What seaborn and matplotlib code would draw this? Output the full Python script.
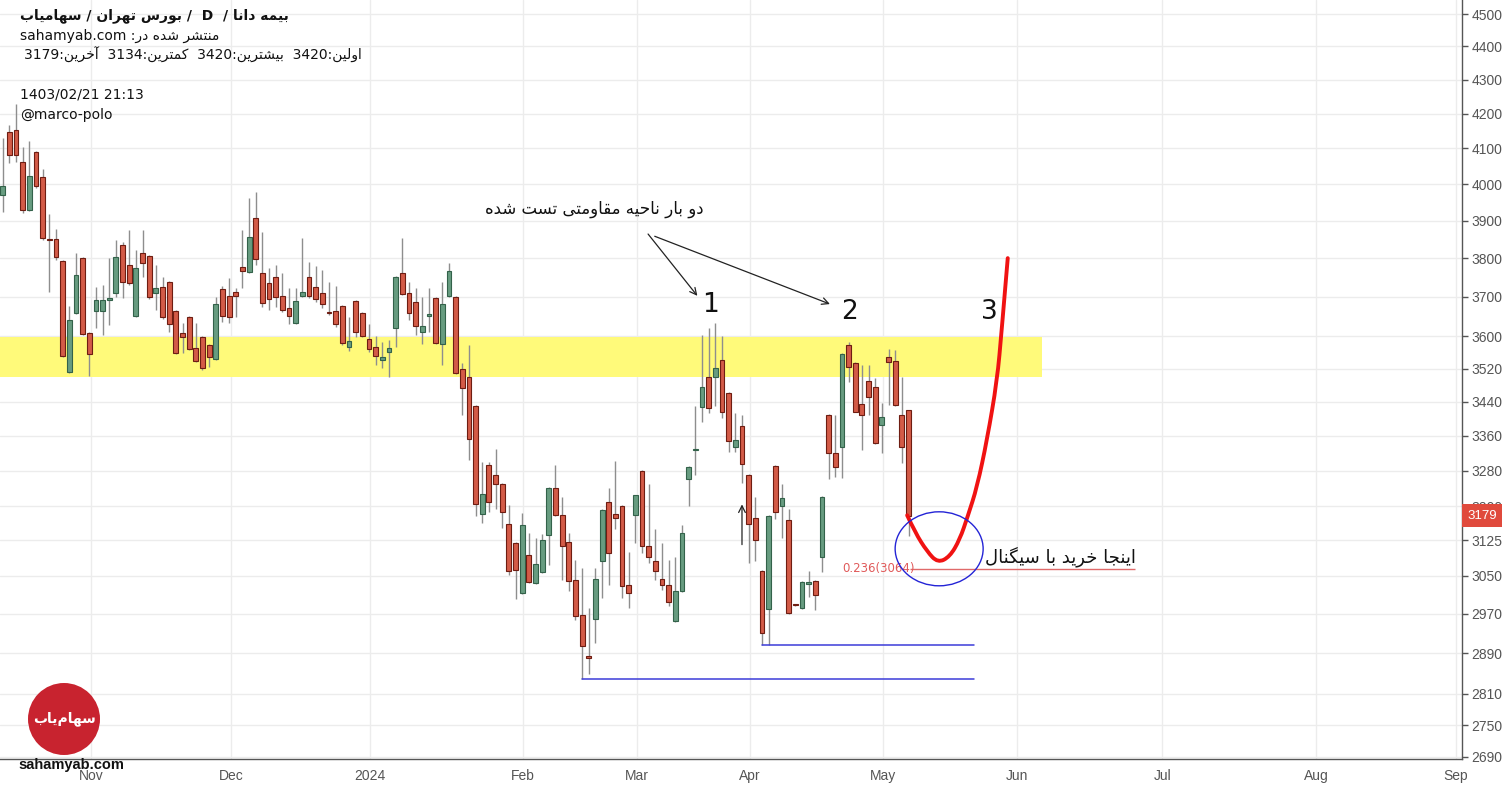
import numpy as np
import pandas as pd
import seaborn as sns
import matplotlib.pyplot as plt
from matplotlib.patches import Ellipse, Rectangle, PathPatch
from matplotlib.path import Path

# daily candles (bima dana)
opens = [3970, 4147, 4153, 4061, 3929, 4090, 4020, 3851, 3850, 3793,
         3512, 3658, 3800, 3608, 3663, 3663, 3691, 3709, 3835, 3782,
         3651, 3814, 3806, 3709, 3725, 3738, 3663, 3608, 3648, 3571,
         3598, 3578, 3544, 3720, 3702, 3712, 3777, 3764, 3907, 3761,
         3735, 3751, 3702, 3671, 3633, 3702, 3751, 3725, 3709, 3661,
         3663, 3676, 3573, 3689, 3658, 3593, 3573, 3541, 3561, 3621,
         3761, 3709, 3686, 3611, 3651, 3697, 3581, 3702, 3699, 3519,
         3500, 3431, 3182, 3293, 3271, 3250, 3160, 3120, 3014, 3094,
         3035, 3058, 3136, 3241, 3180, 3122, 3041, 2967, 2884, 2959,
         3080, 3210, 3182, 3200, 3031, 3180, 3280, 3114, 3080, 3043,
         3031, 2956, 3018, 3262, 3326, 3428, 3500, 3500, 3541, 3461,
         3335, 3383, 3271, 3173, 3060, 2981, 3291, 3200, 3169, 2990,
         2983, 3033, 3039, 3090, 3409, 3321, 3335, 3578, 3534, 3435,
         3490, 3476, 3386, 3549, 3539, 3409, 3420]
highs = [4130, 4167, 4227, 4104, 4121, 4092, 4042, 3918, 3877, 3795,
         3676, 3814, 3802, 3610, 3725, 3730, 3800, 3848, 3842, 3875,
         3821, 3875, 3808, 3782, 3751, 3740, 3665, 3633, 3650, 3633,
         3600, 3580, 3699, 3727, 3748, 3722, 3875, 3962, 3978, 3869,
         3774, 3782, 3761, 3722, 3722, 3853, 3790, 3780, 3769, 3738,
         3727, 3678, 3648, 3691, 3660, 3631, 3601, 3586, 3591, 3753,
         3853, 3738, 3722, 3699, 3722, 3699, 3738, 3788, 3702, 3534,
         3578, 3433, 3300, 3300, 3330, 3252, 3202, 3122, 3186, 3142,
         3131, 3138, 3243, 3293, 3221, 3142, 3084, 3067, 2983, 3065,
         3193, 3241, 3302, 3202, 3101, 3226, 3282, 3250, 3149, 3120,
         3084, 3090, 3158, 3291, 3431, 3603, 3621, 3633, 3601, 3463,
         3414, 3409, 3273, 3221, 3062, 3180, 3293, 3250, 3193, 2991,
         3039, 3060, 3041, 3223, 3411, 3409, 3558, 3586, 3536, 3529,
         3529, 3497, 3437, 3568, 3566, 3500, 3420]
lows = [3923, 4058, 4061, 3921, 3926, 3990, 3848, 3712, 3795, 3549,
        3510, 3656, 3604, 3502, 3621, 3603, 3628, 3699, 3697, 3730,
        3649, 3751, 3694, 3666, 3643, 3611, 3556, 3559, 3566, 3537,
        3517, 3524, 3542, 3636, 3633, 3648, 3722, 3761, 3782, 3674,
        3666, 3674, 3661, 3631, 3631, 3699, 3697, 3687, 3671, 3653,
        3623, 3578, 3564, 3598, 3598, 3561, 3529, 3522, 3500, 3573,
        3704, 3641, 3603, 3581, 3611, 3581, 3529, 3699, 3507, 3409,
        3305, 3178, 3164, 3188, 3193, 3153, 3052, 3000, 3012, 3035,
        3033, 3056, 3073, 3178, 3041, 3018, 2958, 2840, 2848, 2910,
        3002, 3031, 3149, 3002, 2983, 3120, 3099, 3077, 3041, 3020,
        2987, 2954, 3016, 3200, 3271, 3393, 3414, 3431, 3402, 3323,
        3323, 3253, 3077, 3080, 2906, 2906, 3171, 3131, 2969, 2987,
        2981, 3006, 2979, 3058, 3262, 3266, 3264, 3488, 3415, 3327,
        3409, 3342, 3321, 3433, 3431, 3298, 3134]
closes = [3995, 4081, 4081, 3929, 4022, 3995, 3853, 3849, 3803, 3551,
          3641, 3756, 3606, 3556, 3691, 3691, 3696, 3803, 3738, 3735,
          3774, 3788, 3699, 3722, 3648, 3631, 3559, 3598, 3568, 3539,
          3522, 3549, 3681, 3651, 3648, 3702, 3766, 3856, 3798, 3684,
          3694, 3699, 3666, 3651, 3689, 3712, 3702, 3694, 3681, 3658,
          3631, 3583, 3588, 3611, 3601, 3568, 3551, 3549, 3571, 3751,
          3707, 3658, 3626, 3626, 3656, 3583, 3681, 3766, 3510, 3473,
          3353, 3206, 3228, 3210, 3250, 3188, 3060, 3062, 3158, 3037,
          3075, 3127, 3241, 3180, 3114, 3039, 2965, 2904, 2880, 3043,
          3191, 3099, 3173, 3027, 3014, 3224, 3114, 3090, 3060, 3031,
          2995, 3018, 3142, 3289, 3330, 3476, 3426, 3522, 3417, 3349,
          3351, 3296, 3160, 3127, 2930, 3178, 3188, 3219, 2971, 2988,
          3037, 3037, 3010, 3221, 3321, 3289, 3556, 3524, 3417, 3409,
          3452, 3344, 3404, 3537, 3433, 3333, 3179]

# axis labels
y_ticks = [2690, 2750, 2810, 2890, 2970, 3050, 3125, 3200, 3280, 3360, 3440,
           3520, 3600, 3700, 3800, 3900, 4000, 4100, 4200, 4300, 4400, 4500]
month_labels = ['Nov', 'Dec', '2024', 'Feb', 'Mar', 'Apr', 'May', 'Jun', 'Jul', 'Aug', 'Sep']
month_pos = [13.3, 34.3, 55.2, 78.1, 95.2, 112.2, 132.2, 152.3, 174.1, 197.2, 218.2]

# drawings on the chart
zone_low, zone_high = 3500, 3598
support_1, support_2 = 2840, 2906
fib_level = 3064
first_p, high_p, low_p, last_p = 3420, 3420, 3134, 3179
proj_x = [135.8, 137.0, 138.8, 140.4, 142.2, 143.7, 144.9, 146.3, 147.8, 149.3, 150.0, 150.9]
proj_y = [3180, 3142, 3101, 3077, 3090, 3127, 3178, 3243, 3351, 3490, 3616, 3800]

# minimal persian shaping (matplotlib has no bidi / joining)
FORMS = {
    'ا': ('\uFE8D', '\uFE8E', None, None), 'آ': ('\uFE81', '\uFE82', None, None),
    'ب': ('\uFE8F', '\uFE90', '\uFE91', '\uFE92'), 'ت': ('\uFE95', '\uFE96', '\uFE97', '\uFE98'),
    'ج': ('\uFE9D', '\uFE9E', '\uFE9F', '\uFEA0'), 'ح': ('\uFEA1', '\uFEA2', '\uFEA3', '\uFEA4'),
    'خ': ('\uFEA5', '\uFEA6', '\uFEA7', '\uFEA8'), 'د': ('\uFEA9', '\uFEAA', None, None),
    'ر': ('\uFEAD', '\uFEAE', None, None), 'س': ('\uFEB1', '\uFEB2', '\uFEB3', '\uFEB4'),
    'ش': ('\uFEB5', '\uFEB6', '\uFEB7', '\uFEB8'), 'ق': ('\uFED5', '\uFED6', '\uFED7', '\uFED8'),
    'ک': ('\uFB8E', '\uFB8F', '\uFB90', '\uFB91'), 'گ': ('\uFB92', '\uFB93', '\uFB94', '\uFB95'),
    'ل': ('\uFEDD', '\uFEDE', '\uFEDF', '\uFEE0'), 'م': ('\uFEE1', '\uFEE2', '\uFEE3', '\uFEE4'),
    'ن': ('\uFEE5', '\uFEE6', '\uFEE7', '\uFEE8'), 'و': ('\uFEED', '\uFEEE', None, None),
    'ه': ('\uFEE9', '\uFEEA', '\uFEEB', '\uFEEC'), 'ی': ('\uFBFC', '\uFBFD', '\uFBFE', '\uFBFF'),
}


def fa(text):
    out = []
    for i, ch in enumerate(text):
        if ch not in FORMS:
            out.append('' if ch == '\u200c' else ch)
            continue
        prev = text[i - 1] if i > 0 else None
        nxt = text[i + 1] if i + 1 < len(text) else None
        join_prev = prev in FORMS and FORMS[prev][2] is not None
        join_next = nxt in FORMS and FORMS[ch][2] is not None
        iso, fin, ini, med = FORMS[ch]
        if join_prev and join_next:
            out.append(med)
        elif join_prev:
            out.append(fin)
        elif join_next:
            out.append(ini)
        else:
            out.append(iso)
    return ''.join(reversed(out))


sns.set_theme(style='white')
plt.rcParams['font.family'] = ['DejaVu Sans']
narrow = ['Liberation Sans Narrow', 'Liberation Sans', 'DejaVu Sans']

df = pd.DataFrame({'o': opens, 'h': highs, 'l': lows, 'c': closes})
df['i'] = np.arange(len(df))
up = df['c'] >= df['o']

fig = plt.figure(figsize=(15.02, 7.87), dpi=100)
ax = fig.add_axes([0, 28 / 787, 1462 / 1502, 759 / 787])
ax.set_yscale('log')
ax.set_xlim(-0.4, 219.1)
ax.set_ylim(2686, 4544)

# resistance zone
ax.add_patch(Rectangle((-1, zone_low), 157, zone_high - zone_low, fc='#fffa7a', ec='none', zorder=1))

# candles
ax.vlines(df['i'], df['l'], df['h'], color='#8e8e8e', lw=1, zorder=2)
ax.bar(df['i'], (df['c'] - df['o']).abs(), bottom=df[['o', 'c']].min(axis=1), width=0.72,
       color=np.where(up, '#679c80', '#d35b47'), edgecolor=np.where(up, '#33624a', '#6e1d12'),
       linewidth=0.8, zorder=3)

# supports and fib level
sns.lineplot(x=[87, 145.8], y=[support_1, support_1], color='#3c3cd8', lw=1.1, ax=ax, zorder=4)
sns.lineplot(x=[114, 145.8], y=[support_2, support_2], color='#3c3cd8', lw=1.1, ax=ax, zorder=4)
ax.hlines(fib_level, 136.2, 170, color='#e06a6a', lw=1, zorder=4)
ax.text(137.0, fib_level, '0.236(3064)', color='#e05a5a', fontsize=8.5, ha='right', va='center', zorder=5)

# projected path, smoothed with quadratic segments through the read points
pts = list(zip(proj_x, proj_y))
verts, codes = [pts[0]], [Path.MOVETO]
for k in range(1, len(pts) - 1):
    nxt = pts[k + 1] if k + 1 < len(pts) - 1 else pts[-1]
    mid = nxt if k == len(pts) - 2 else ((pts[k][0] + nxt[0]) / 2, (pts[k][1] + nxt[1]) / 2)
    verts += [pts[k], mid]
    codes += [Path.CURVE3, Path.CURVE3]
ax.add_patch(PathPatch(Path(verts, codes), fill=False, ec='#f01212', lw=2.8,
                       capstyle='round', joinstyle='round', zorder=6))

# annotations
ax.text(88.9, 3931, fa('دو بار ناحیه مقاومتی تست شده'), fontsize=12, ha='center', va='center', color='#111')
arrow = dict(arrowstyle='->', color='#222', lw=0.9, shrinkA=0, shrinkB=0)
ax.annotate('', xy=(104.3, 3702), xytext=(96.9, 3864), arrowprops=arrow)
ax.annotate('', xy=(124.2, 3681), xytext=(97.9, 3858), arrowprops=arrow)
ax.annotate('', xy=(111.0, 3204), xytext=(111.0, 3116), arrowprops=arrow)
for lab, xx, yy in [('1', 106.2, 3679), ('2', 127.2, 3661), ('3', 148.2, 3661)]:
    ax.text(xx, yy, lab, fontsize=19, ha='center', va='center', color='#111')
ax.text(158.8, 3090, fa('اینجا خرید با سیگنال'), fontsize=13, ha='center', va='center', color='#111')

# axes styling
ax.yaxis.tick_right()
ax.set_yticks(y_ticks, [str(v) for v in y_ticks])
ax.minorticks_off()
ax.set_xticks(month_pos, month_labels)
for t in ax.get_xticklabels() + ax.get_yticklabels():
    t.set_fontfamily(narrow)
ax.tick_params(axis='both', direction='out', length=4, width=1, color='#555',
               labelcolor='#555', labelsize=10, pad=3)
ax.grid(True, color='#ececec', lw=1)
ax.set_axisbelow(True)
for s in ['left', 'top']:
    ax.spines[s].set_visible(False)
for s in ['right', 'bottom']:
    ax.spines[s].set_color('#555')
    ax.spines[s].set_linewidth(1)

# last price tag
tag = ax.get_yaxis_transform()
ax.text(1 + 20 / 1462, last_p, str(last_p), transform=tag, ha='center', va='center', fontsize=9.5,
        color='white', fontfamily=narrow, clip_on=False, zorder=10,
        bbox=dict(boxstyle='square,pad=0.4', fc='#e04a3c', ec='none'))

# circle around the buy zone (drawn in pixels so it stays round on log axis)
fig.canvas.draw()
cx, cy = fig.transFigure.inverted().transform(ax.transData.transform((140.6, 3107)))
fig.add_artist(Ellipse((cx, cy), 88 / 1502, 74 / 787, transform=fig.transFigure,
                       fill=False, ec='#2424d6', lw=1))


# header
def px(x, y):
    return x / 1502, 1 - y / 787


title = ' / '.join([fa('سهامیاب'), fa('بورس تهران'), ' D ', fa('بیمه دانا')])
fig.text(*px(20, 16), title, fontsize=10, fontweight='bold', va='center', color='#111')
fig.text(*px(20, 36), 'sahamyab.com :' + fa('منتشر شده در'), fontsize=10, va='center', color='#111')
stats = '  '.join([f'{last_p}:' + fa('آخرین'), f'{low_p}:' + fa('کمترین'),
                   f'{high_p}:' + fa('بیشترین'), f'{first_p}:' + fa('اولین')])
fig.text(*px(24, 55), stats, fontsize=10, va='center', color='#111')
fig.text(*px(20, 95), '1403/02/21 21:13', fontsize=10, va='center', color='#111')
fig.text(*px(20, 115), '@marco-polo', fontsize=10, va='center', color='#111')

# sahamyab logo
fig.add_artist(Ellipse(px(64, 719), 72 / 1502, 72 / 787, transform=fig.transFigure, fc='#c8232f', ec='none'))
fig.text(*px(64, 719), fa('سهام\u200cیاب'), fontsize=10, fontweight='bold', color='white', ha='center', va='center')
fig.text(*px(18, 765), 'sahamyab.com', fontsize=10.5, fontweight='bold', fontfamily=narrow,
         color='#111', va='center')

fig.savefig('out.png', dpi=100, facecolor='white')
